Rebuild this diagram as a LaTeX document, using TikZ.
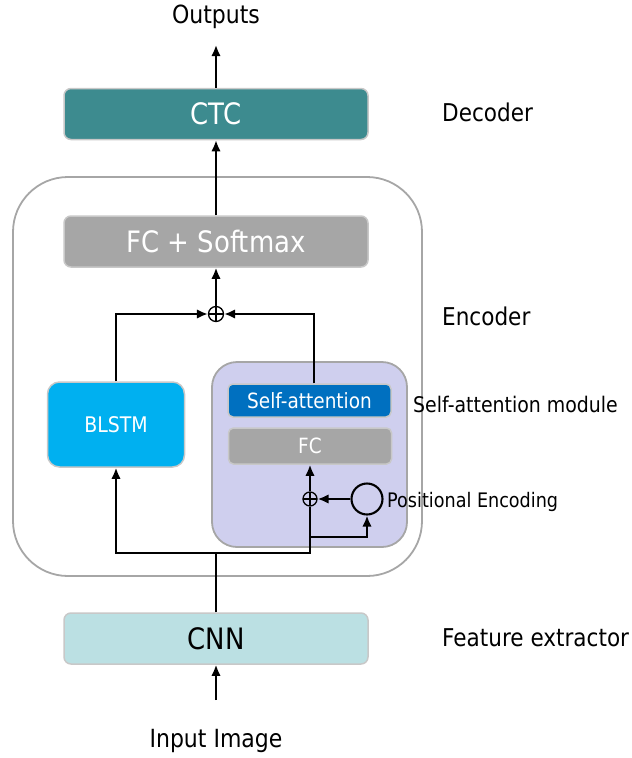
\documentclass[tikz,border=0pt]{standalone}
\usepackage{fontspec}
\setmainfont{DejaVu Sans}[FakeStretch=0.88]
\usetikzlibrary{arrows.meta}
\definecolor{ctcteal}{HTML}{3D8B8F}
\definecolor{fcgray}{HTML}{A6A6A6}
\definecolor{cnncyan}{HTML}{BBE0E3}
\definecolor{lstmblue}{HTML}{00B0F0}
\definecolor{attblue}{HTML}{0070C0}
\definecolor{modlav}{HTML}{CFCFEE}
\definecolor{edgegray}{HTML}{C8C8C8}
\definecolor{framegray}{HTML}{A6A6A6}
\tikzset{
  layer/.style={draw=edgegray, line width=1.5pt, rounded corners=7pt, inner sep=0pt,
    minimum width=304pt, minimum height=51pt, text=white, font=\fontsize{29.5}{31}\selectfont},
  smallbox/.style={draw=edgegray, line width=1.5pt, rounded corners=5pt, inner sep=0pt,
    minimum width=163pt, text=white, font=\fontsize{21}{24}\selectfont},
  sidelabel/.style={anchor=west, inner sep=0pt, font=\fontsize{24.5}{27}\selectfont},
  arr/.style={-{Latex[length=11pt,width=9.5pt]}, line width=2.1pt, black},
  line/.style={line width=2.1pt, black},
  oplus/.style={circle, draw, line width=1.3pt, minimum size=15pt, inner sep=0pt,
    path picture={\draw[line width=1.3pt] (path picture bounding box.north) -- (path picture bounding box.south)
      (path picture bounding box.west) -- (path picture bounding box.east);}}
}
\begin{document}
\begin{tikzpicture}[x=1pt, y=-1pt]
\useasboundingbox (0,0) rectangle (632,758);

% encoder frame and self-attention module
\draw[framegray, line width=1.8pt, rounded corners=55pt] (13,177) rectangle (422,576);
\draw[framegray, fill=modlav, line width=1.8pt, rounded corners=25pt] (212,362) rectangle (407,547);

% layers
\node[layer, fill=ctcteal] (ctc) at (216,114) {CTC};
\node[layer, fill=fcgray] (fcs) at (216,241.5) {FC + Softmax};
\node[layer, fill=cnncyan, text=black] (cnn) at (216,638.5) {CNN};
\node[draw=edgegray, fill=lstmblue, line width=1.5pt, rounded corners=12pt, inner sep=0pt,
  minimum width=137pt, minimum height=85pt, text=white, font=\fontsize{21.5}{24}\selectfont]
  (blstm) at (116,424.5) {BLSTM};
\node[smallbox, fill=attblue, minimum height=33pt] (sa) at (309.5,400.5) {Self-attention};
\node[smallbox, fill=fcgray, minimum height=36pt] (fc) at (310,446) {FC};

% summation points and positional encoding
\node[oplus] (sum) at (216,314) {};
\node[oplus, minimum size=14pt] (peplus) at (310,499) {};
\node[circle, draw, line width=2.1pt, minimum size=31pt, inner sep=0pt] (pe) at (367,499) {};

% texts
\node[inner sep=0pt, font=\fontsize{25}{27}\selectfont] (out) at (216,17) {Outputs};
\node[inner sep=0pt, font=\fontsize{25}{27}\selectfont] (inp) at (216,741) {Input Image};
\node[sidelabel] (ldec) at (442,112) {Decoder};
\node[sidelabel] (lenc) at (442,316) {Encoder};
\node[sidelabel, font=\fontsize{21.5}{24}\selectfont] (lmod) at (413,404) {Self-attention module};
\node[sidelabel, font=\fontsize{20}{22}\selectfont] (lpe) at (387,502) {Positional Encoding};
\node[sidelabel] (lfe) at (442,638) {Feature extractor};

% connectors
\coordinate (outend) at (216,45);
\coordinate (inbeg) at (216,700);
\coordinate (split) at (216,553);
\coordinate (petap) at (310,537);
\draw[arr] (inbeg) -- (cnn.south);
\draw[line] (cnn.north) -- (split);
\draw[arr] (split) -| (blstm.south);
\draw[line] (split) -| (peplus.south);
\draw[arr] (peplus.north) -- (fc.south);
\draw[arr] (petap) -| (pe.south);
\draw[arr] (pe.west) -- (peplus.east);
\draw[arr] (blstm.north) |- (sum.west);
\draw[arr] ([xshift=4.5pt]sa.north) |- (sum.east);
\draw[arr] (sum.north) -- (fcs.south);
\draw[arr] (fcs.north) -- (ctc.south);
\draw[arr] (ctc.north) -- (outend);
\end{tikzpicture}
\end{document}
